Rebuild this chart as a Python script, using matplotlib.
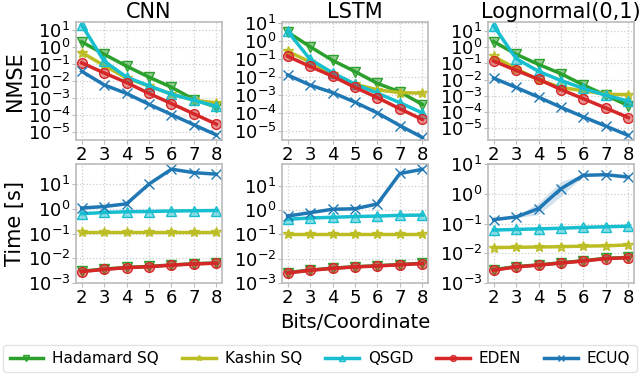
import numpy as np
import matplotlib
matplotlib.use("Agg")
import matplotlib.pyplot as plt

bits = [2, 3, 4, 5, 6, 7, 8]
methods = ["Hadamard SQ", "Kashin SQ", "QSGD", "EDEN", "ECUQ"]
colors = ["#2ca02c", "#bcbd22", "#17becf", "#d62728", "#1f77b4"]
markers = ["v", "*", "^", "o", "x"]
titles = ["CNN", "LSTM", "Lognormal(0,1)"]

# log10 NMSE, per dataset, per method
nmse_cnn = [
    [0.33, -0.41, -1.12, -1.77, -2.37, -3.10, -3.55],
    [-0.31, -1.08, -1.83, -2.30, -2.78, -3.14, -3.30],
    [1.34, -0.82, -1.77, -2.29, -2.78, -3.14, -3.50],
    [-0.92, -1.52, -2.09, -2.74, -3.34, -3.95, -4.56],
    [-1.42, -2.23, -2.74, -3.38, -3.99, -4.60, -5.20],
]
nmse_lstm = [
    [0.49, -0.32, -1.08, -1.70, -2.36, -2.83, -3.53],
    [-0.57, -1.17, -1.83, -2.40, -2.72, -2.87, -2.90],
    [0.53, -1.02, -1.77, -2.40, -2.90, -3.43, -4.00],
    [-0.85, -1.42, -1.96, -2.58, -3.15, -3.77, -4.36],
    [-1.89, -2.45, -2.87, -3.40, -4.00, -4.70, -5.36],
]
nmse_logn = [
    [0.36, -0.43, -1.06, -1.64, -2.34, -2.98, -3.62],
    [-0.57, -1.32, -2.02, -2.49, -2.70, -2.91, -2.94],
    [1.34, -0.70, -1.49, -2.06, -2.55, -2.98, -3.34],
    [-0.85, -1.43, -1.98, -2.62, -3.19, -3.77, -4.36],
    [-1.91, -2.49, -3.09, -3.72, -4.32, -4.89, -5.47],
]
# log10 time [s]
time_cnn = [
    [-2.52, -2.44, -2.37, -2.33, -2.27, -2.22, -2.19],
    [-0.93, -0.93, -0.93, -0.93, -0.93, -0.93, -0.93],
    [-0.20, -0.15, -0.12, -0.11, -0.09, -0.08, -0.07],
    [-2.54, -2.45, -2.38, -2.34, -2.28, -2.23, -2.20],
    [0.03, 0.09, 0.20, 1.00, 1.60, 1.46, 1.40],
]
time_lstm = [
    [-2.57, -2.47, -2.39, -2.33, -2.29, -2.24, -2.19],
    [-0.97, -0.97, -0.97, -0.97, -0.97, -0.97, -0.97],
    [-0.38, -0.33, -0.30, -0.27, -0.25, -0.22, -0.21],
    [-2.59, -2.48, -2.40, -2.34, -2.30, -2.25, -2.20],
    [-0.25, -0.11, 0.03, 0.05, 0.25, 1.50, 1.67],
]
time_logn = [
    [-2.55, -2.45, -2.39, -2.32, -2.25, -2.17, -2.14],
    [-1.81, -1.80, -1.79, -1.78, -1.76, -1.75, -1.72],
    [-1.22, -1.20, -1.18, -1.16, -1.13, -1.11, -1.09],
    [-2.57, -2.46, -2.40, -2.33, -2.26, -2.18, -2.15],
    [-0.87, -0.78, -0.50, 0.17, 0.62, 0.64, 0.56],
]
# spread (log10) of ECUQ time on lognormal
ecuq_logn_spread = [0.03, 0.03, 0.2, 0.25, 0.03, 0.02, 0.02]

nmse_all = [nmse_cnn, nmse_lstm, nmse_logn]
time_all = [time_cnn, time_lstm, time_logn]
nmse_lims = [(10**-5.5, 10**1.5), (10**-5.5, 10**1.05), (10**-5.75, 10**1.57)]
time_lims = [(1e-3, 10**1.81), (1e-3, 10**1.89), (1e-3, 1e1)]

W, H = 640, 377
fig = plt.figure(figsize=(6.4, 3.77), dpi=100)
lefts = [76, 282, 488]
width = 146

def style(ax):
    ax.set_yscale("log")
    ax.set_xlim(1.75, 8.25)
    ax.set_xticks(bits)
    ax.grid(True, color="#cccccc", linestyle=":", linewidth=0.9)
    for s in ax.spines.values():
        s.set_color("#bbbbbb")
        s.set_linewidth(1.2)
    ax.tick_params(labelsize=13, length=3, color="#bbbbbb", pad=1)
    ax.yaxis.set_minor_locator(matplotlib.ticker.NullLocator())
    ax.yaxis.set_major_locator(matplotlib.ticker.LogLocator(base=10, numticks=20))

handles = []
for c in range(3):
    ax1 = fig.add_axes([lefts[c] / W, 1 - 140 / H, width / W, 118 / H])
    ax2 = fig.add_axes([lefts[c] / W, 1 - 283 / H, width / W, 119 / H])
    for m in range(5):
        y1 = 10 ** np.array(nmse_all[c][m])
        h, = ax1.plot(bits, y1, color=colors[m], marker=markers[m], lw=2.5,
                      ms=7, mfc=matplotlib.colors.to_rgba(colors[m], 0.5),
                      mec=colors[m], label=methods[m])
        y2 = 10 ** np.array(time_all[c][m])
        ax2.plot(bits, y2, color=colors[m], marker=markers[m], lw=2.5,
                 ms=7, mfc=matplotlib.colors.to_rgba(colors[m], 0.5),
                 mec=colors[m])
        if c == 0:
            handles.append(h)
    lt = np.array(time_logn[4])
    if c == 2:
        sp = np.array(ecuq_logn_spread)
        ax2.fill_between(bits, 10 ** (lt - sp), 10 ** (lt + sp),
                         color=colors[4], alpha=0.2, lw=0)
    style(ax1)
    style(ax2)
    ax1.set_ylim(*nmse_lims[c])
    ax2.set_ylim(*time_lims[c])
    ax1.set_title(titles[c], fontsize=15, pad=2)
    if c == 0:
        ax1.set_ylabel("NMSE", fontsize=15, labelpad=2)
        ax2.set_ylabel("Time [s]", fontsize=15, labelpad=2)
    if c == 1:
        ax2.set_xlabel("Bits/Coordinate", fontsize=14, labelpad=5)

fig.legend(handles=handles, labels=methods, loc="lower center", ncol=5,
           bbox_to_anchor=(0.5, 0.0), fontsize=11, frameon=True,
           handlelength=2.2, columnspacing=1.5, handletextpad=0.6,
           borderaxespad=0.3, edgecolor="#dddddd", markerscale=0.6)

fig.savefig("out.png", dpi=100)
